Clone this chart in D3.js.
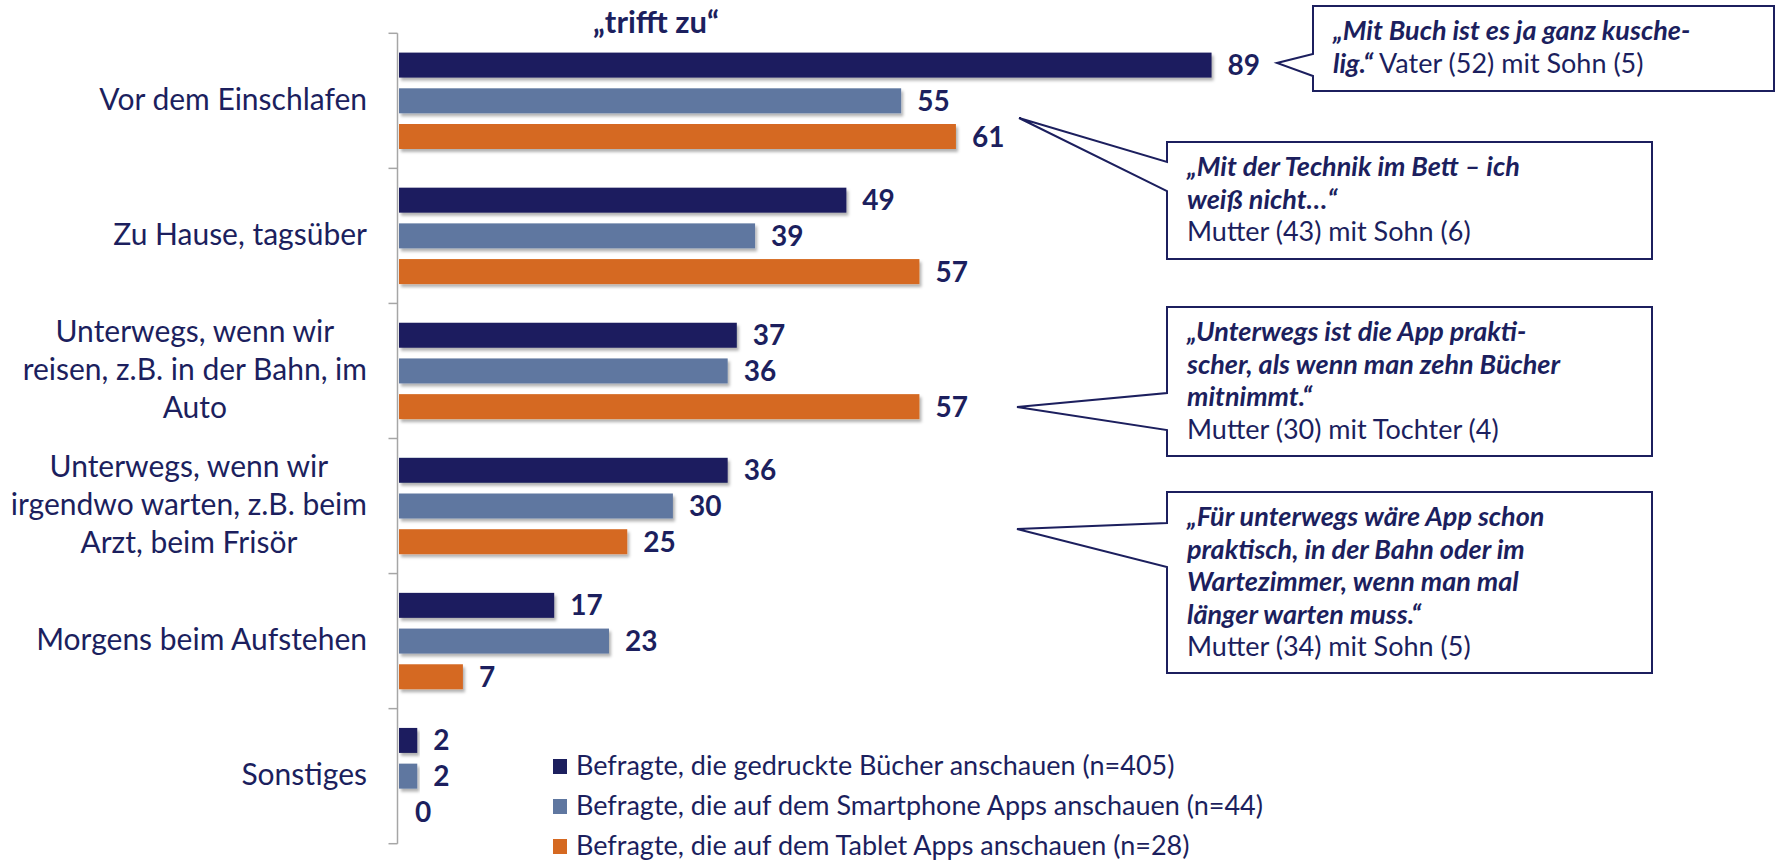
<!DOCTYPE html>
<html lang="de">
<head>
<meta charset="UTF-8">
<title>trifft zu</title>
<script src="https://d3js.org/d3.v7.min.js"></script>
<style>
  body { margin: 0; background: #fff; }
  svg { display: block; font-family: Lato, "Open Sans", sans-serif; }
</style>
</head>
<body>
<div id="chart"></div>
<script>
// data
const categories = [
  "Vor dem Einschlafen",
  "Zu Hause, tagsüber",
  "Unterwegs, wenn wir\nreisen, z.B. in der Bahn, im\nAuto",
  "Unterwegs, wenn wir\nirgendwo warten, z.B. beim\nArzt, beim Frisör",
  "Morgens beim Aufstehen",
  "Sonstiges"
]
const seriesNames = [
  "Befragte, die gedruckte Bücher anschauen (n=405)",
  "Befragte, die auf dem Smartphone Apps anschauen (n=44)",
  "Befragte, die auf dem Tablet Apps anschauen (n=28)"
]
const booksValues = [89, 49, 37, 36, 17, 2]
const phoneValues = [55, 39, 36, 30, 23, 2]
const tabletValues = [61, 57, 57, 25, 7, 0]
const title = "„trifft zu“"

// quotes: each line is a list of [text, italic bold?]
const quotes = [
  [[["„Mit Buch ist es ja ganz kusche-", true]],
   [["lig.“", true], [" Vater (52) mit Sohn (5)", false]]],
  [[["„Mit der Technik im Bett – ich", true]],
   [["weiß nicht…“", true]],
   [["Mutter (43) mit Sohn (6)", false]]],
  [[["„Unterwegs ist die App prakti-", true]],
   [["scher, als wenn man zehn Bücher", true]],
   [["mitnimmt.“", true]],
   [["Mutter (30) mit Tochter (4)", false]]],
  [[["„Für unterwegs wäre App schon", true]],
   [["praktisch, in der Bahn oder im", true]],
   [["Wartezimmer, wenn man mal", true]],
   [["länger warten muss.“", true]],
   [["Mutter (34) mit Sohn (5)", false]]]
]

const W = 1781, H = 860
const navy = "#1c1f5e"
const colors = ["#1c1f5e", "#5f77a0", "#d56921"]
const seriesValues = [booksValues, phoneValues, tabletValues]

// callout box layout (pixels)
const boxes = [
  {x: 1313, y: 6, w: 461, h: 85, b1: 54, b2: 76, tx: 1277, ty: 63},
  {x: 1167, y: 142, w: 485, h: 117, b1: 162, b2: 191, tx: 1019, ty: 118},
  {x: 1167, y: 307, w: 485, h: 149, b1: 393, b2: 430, tx: 1017, ty: 407},
  {x: 1167, y: 492, w: 485, h: 181, b1: 523, b2: 567, tx: 1017, ty: 529}
]

const svg = d3.select("#chart").append("svg")
  .attr("width", W).attr("height", H)

const defs = svg.append("defs")
defs.append("filter").attr("id", "shadow")
  .attr("x", "-5%").attr("y", "-30%").attr("width", "115%").attr("height", "190%")
  .append("feDropShadow")
  .attr("dx", 2).attr("dy", 3).attr("stdDeviation", 1.8)
  .attr("flood-color", "#000").attr("flood-opacity", 0.3)

// scales
const y0 = d3.scaleBand().domain(categories).range([33.3, 843.7])
const y1 = d3.scaleBand().domain(d3.range(3)).range([19.3, 115.7]).paddingInner(0.3)
const x = d3.scaleLinear().domain([0, 100]).range([399, 1312])

// axis
const axisG = svg.append("g").attr("transform", "translate(397.5,0)")
const axis = d3.axisLeft(y0).tickSize(0).tickFormat("")
axisG.call(axis)
axisG.select(".domain").attr("stroke", "#a6a6a6").attr("stroke-width", 1.5)
  .attr("d", `M0,${y0.range()[0]}V${y0.range()[1]}`)
// tick marks at category boundaries
const bounds = categories.map(c => y0(c)).concat([y0.range()[1]])
axisG.selectAll(".bound").data(bounds).join("line")
  .attr("x1", -9).attr("x2", 0)
  .attr("y1", d => d).attr("y2", d => d)
  .attr("stroke", "#a6a6a6").attr("stroke-width", 1.5)

// bars
const rows = []
categories.forEach((c, i) => {
  seriesValues.forEach((vals, s) => rows.push({cat: c, s: s, v: vals[i]}))
})

svg.append("g").selectAll("rect").data(rows.filter(d => d.v > 0)).join("rect")
  .attr("x", x(0))
  .attr("y", d => y0(d.cat) + y1(d.s))
  .attr("width", d => x(d.v) - x(0))
  .attr("height", y1.bandwidth())
  .attr("fill", d => colors[d.s])
  .attr("filter", "url(#shadow)")

// value labels
svg.append("g").selectAll("text").data(rows).join("text")
  .attr("x", d => x(d.v) + 16)
  .attr("y", d => y0(d.cat) + y1(d.s) + y1.bandwidth() / 2 + 10)
  .attr("fill", navy)
  .style("font-size", "28px").style("font-weight", 700)
  .text(d => d.v)

// category labels
const catG = svg.append("g")
categories.forEach(c => {
  const lines = c.split("\n")
  const t = catG.append("text")
    .attr("fill", navy)
    .style("font-size", "30px")
    .attr("text-anchor", "middle")
  const cy = y0(c) + y0.bandwidth() / 2
  lines.forEach((ln, i) => {
    t.append("tspan")
      .attr("y", cy + 9 + (i - (lines.length - 1) / 2) * 38)
      .text(ln)
  })
  // right-align the block, center the lines within it
  let maxW = 0
  t.selectAll("tspan").each(function() { maxW = Math.max(maxW, this.getComputedTextLength()) })
  t.selectAll("tspan").attr("x", 367 - maxW / 2)
})

// title
svg.append("text")
  .attr("x", 656).attr("y", 33)
  .attr("text-anchor", "middle")
  .attr("fill", navy)
  .style("font-size", "31px").style("font-weight", 700)
  .text(title)

// callouts
boxes.forEach((b, i) => {
  const p = d3.path()
  p.moveTo(b.x, b.y)
  p.lineTo(b.x + b.w, b.y)
  p.lineTo(b.x + b.w, b.y + b.h)
  p.lineTo(b.x, b.y + b.h)
  p.lineTo(b.x, b.b2)
  p.lineTo(b.tx, b.ty)
  p.lineTo(b.x, b.b1)
  p.closePath()
  svg.append("path").attr("d", p.toString())
    .attr("fill", "#fff").attr("stroke", navy).attr("stroke-width", 2)

  const t = svg.append("text").attr("fill", navy).style("font-size", "27px")
  quotes[i].forEach((line, j) => {
    const ln = t.append("tspan").attr("x", b.x + 20).attr("y", b.y + 34 + j * 32.5)
    line.forEach(seg => {
      ln.append("tspan")
        .style("font-style", seg[1] ? "italic" : "normal")
        .style("font-weight", seg[1] ? 700 : 400)
        .text(seg[0])
    })
  })
})

// legend
const leg = svg.append("g").selectAll("g").data(seriesNames).join("g")
  .attr("transform", (d, i) => `translate(553,${759 + i * 40})`)
leg.append("rect").attr("width", 14).attr("height", 15).attr("fill", (d, i) => colors[i])
leg.append("text").attr("x", 23).attr("y", 16)
  .attr("fill", navy).style("font-size", "27px")
  .text(d => d)
</script>
</body>
</html>
